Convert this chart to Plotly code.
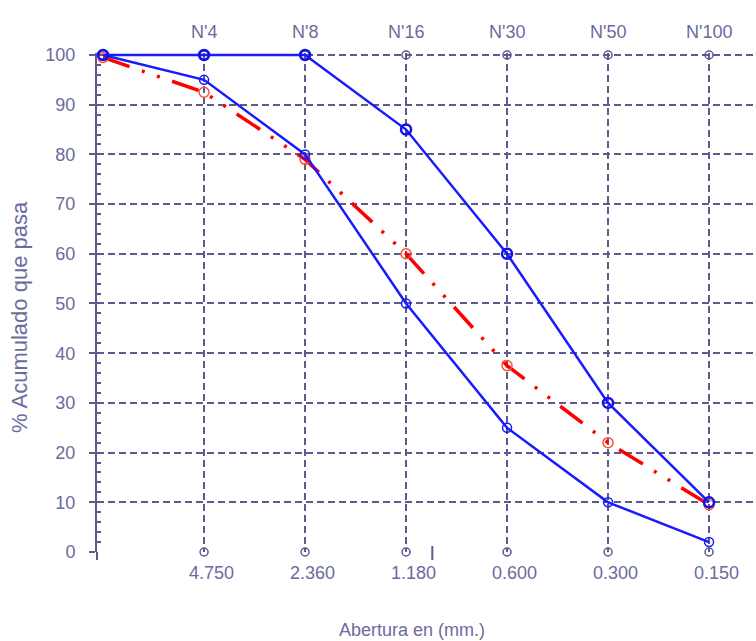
import plotly.graph_objects as go

# ---- data ----
positions = [0, 1, 2, 3, 4, 5, 6]
sieve_top = ["", "N'4", "N'8", "N'16", "N'30", "N'50", "N'100"]
opening_mm = ["", "4.750", "2.360", "1.180", "0.600", "0.300", "0.150"]
upper_limit = [100, 100, 100, 85, 60, 30, 10]
lower_limit = [100, 95, 80, 50, 25, 10, 2]
gradation = [99.5, 92.5, 79, 60, 37.5, 22, 9.5]
ref_top = [100, 100, 100, 100, 100, 100]
ref_bottom = [0, 0, 0, 0, 0, 0]

GRID = "#5b5b8c"
TXT = "#6b6b9e"
FONT = "Liberation Sans, Arial, sans-serif"

fig = go.Figure()

# reference circles on the top and bottom gridlines
fig.add_trace(go.Scatter(x=positions[1:], y=ref_top, mode="markers",
                         marker=dict(symbol="circle-open", size=8, color=GRID, line=dict(width=1.5)),
                         showlegend=False, hoverinfo="skip", cliponaxis=False))
fig.add_trace(go.Scatter(x=positions[1:], y=ref_bottom, mode="markers",
                         marker=dict(symbol="circle-open", size=8, color=GRID, line=dict(width=1.5)),
                         showlegend=False, hoverinfo="skip", cliponaxis=False))

fig.add_trace(go.Scatter(x=positions, y=gradation, mode="lines+markers",
                         line=dict(color="#ff0000", width=3.5, dash="28px,13px,3px,13px,3px,13px"),
                         marker=dict(symbol="circle-open", size=10, color="#ff5030", line=dict(width=1.5)),
                         showlegend=False, cliponaxis=False))
fig.add_trace(go.Scatter(x=positions, y=lower_limit, mode="lines+markers",
                         line=dict(color="#1a1aff", width=2.5),
                         marker=dict(symbol="circle-open", size=9, color="#1a1aff", line=dict(width=1.5)),
                         showlegend=False, cliponaxis=False))
fig.add_trace(go.Scatter(x=positions, y=upper_limit, mode="lines+markers",
                         line=dict(color="#1a1aff", width=2.5),
                         marker=dict(symbol="circle-open", size=10, color="#1010ee", line=dict(width=2.5)),
                         showlegend=False, cliponaxis=False))

annotations = []
for p, t in zip(positions, sieve_top):
    if t:
        annotations.append(dict(x=p, y=100, xref="x", yref="y", text=t, showarrow=False,
                                yanchor="middle", yshift=23, font=dict(family=FONT, size=18, color=TXT)))
for p, t in zip(positions, opening_mm):
    if t:
        annotations.append(dict(x=p, y=0, xref="x", yref="paper", text=t, showarrow=False,
                                yanchor="middle", yshift=-21, xshift=7, font=dict(family=FONT, size=18, color=TXT)))
annotations.append(dict(x=0.478, y=0, xref="paper", yref="paper", text="Abertura en (mm.)", showarrow=False,
                        yanchor="middle", yshift=-78, font=dict(family=FONT, size=18, color=TXT)))
annotations.append(dict(x=0, y=0.471, xref="paper", yref="paper", text="% Acumulado que pasa", showarrow=False,
                        textangle=-90, xanchor="center", yanchor="middle", xshift=-77,
                        font=dict(family=FONT, size=22, color=TXT)))

shapes = [
    dict(type="line", xref="paper", yref="paper", x0=0, x1=0, y0=0, y1=-0.016,
         line=dict(color=GRID, width=2)),
    dict(type="line", xref="x", yref="paper", x0=3.26, x1=3.26, y0=0.012, y1=-0.016,
         line=dict(color=GRID, width=2)),
]

fig.update_layout(
    width=756, height=641,
    margin=dict(l=97, r=0, t=53, b=89),
    paper_bgcolor="white", plot_bgcolor="white",
    annotations=annotations, shapes=shapes,
    xaxis=dict(range=[-0.06, 6.465], tickvals=positions[1:], showticklabels=False,
               showgrid=True, gridcolor=GRID, gridwidth=2, griddash="7px,4px",
               zeroline=False, showline=False, ticks=""),
    yaxis=dict(range=[0, 100.4], tickvals=[0, 10, 20, 30, 40, 50, 60, 70, 80, 90, 100],
               showgrid=True, gridcolor=GRID, gridwidth=2,
               griddash="7px,4px", zeroline=False, showline=True, linecolor=GRID, linewidth=2,
               ticks="outside", ticklen=6, tickwidth=2, tickcolor=GRID, ticklabelstandoff=10,
               minor=dict(tickvals=list(range(2, 100, 2)), ticks="inside", ticklen=4, tickwidth=2,
                          tickcolor=GRID, showgrid=False),
               tickfont=dict(family=FONT, size=18, color=TXT)),
)

fig.write_html("out.html", config={"displayModeBar": False},
               post_script="document.body.style.margin='0';document.body.style.overflow='hidden';")
